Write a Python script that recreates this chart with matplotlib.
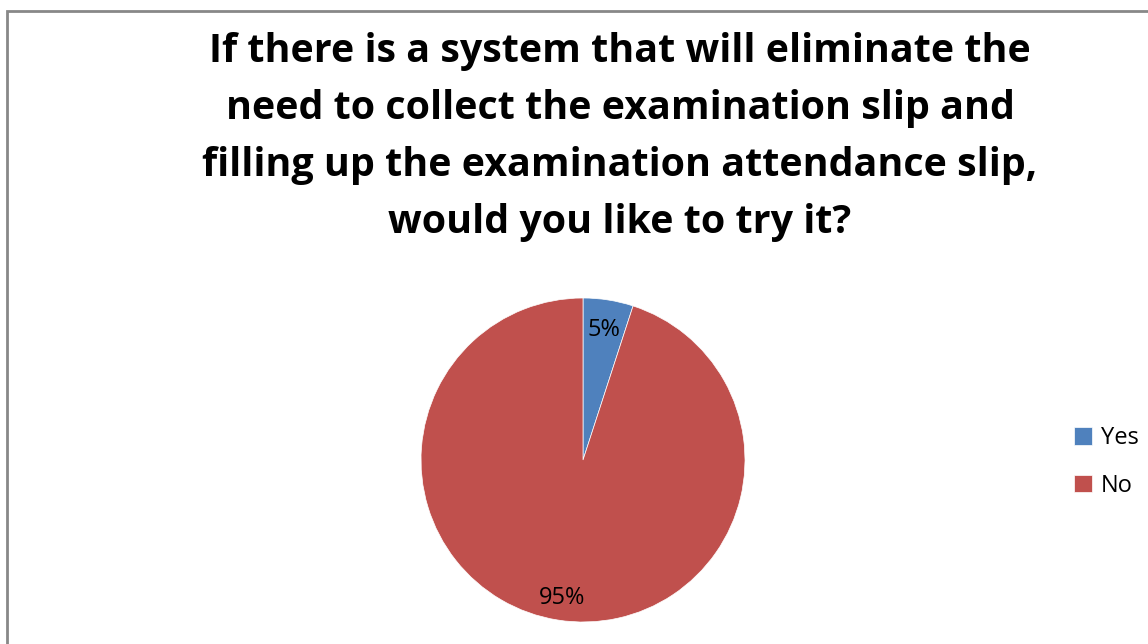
import matplotlib.pyplot as plt
from matplotlib.patches import Rectangle

# Дані опитування
labels = ['Yes', 'No']
values = [5, 95]
colors = ['#4F81BD', '#C0504D']

title = ('If there is a system that will eliminate the\n'
         'need to collect the examination slip and\n'
         'filling up the examination attendance slip,\n'
         'would you like to try it?')

W, H = 1148, 644
fig = plt.figure(figsize=(W / 100, H / 100), dpi=100)
plt.rcParams['font.family'] = ['Open Sans', 'DejaVu Sans']

# Рамка навколо діаграми
fig.patches.append(Rectangle((7 / W, -0.1), 1.2, 1 - 11 / H + 0.1,
                             transform=fig.transFigure, fill=False,
                             edgecolor='#888888', linewidth=2))

fig.text(620 / W, 1 - 137 / H, title, ha='center', va='center',
         fontsize=28.4, fontweight='bold', linespacing=1.6)

cx, cy, r = 583, 460, 162
ax = fig.add_axes([(cx - r) / W, (H - cy - r) / H, 2 * r / W, 2 * r / H])
wedges, texts, autotexts = ax.pie(values, colors=colors, startangle=90,
                                  counterclock=False, autopct='%1.0f%%',
                                  pctdistance=0.84,
                                  wedgeprops=dict(edgecolor='white', linewidth=0.5),
                                  textprops=dict(fontsize=17, color='black'))
# невелике зміщення підписів вниз, як в оригіналі
for t in autotexts:
    x, y = t.get_position()
    t.set_position((x, y - 0.025))
ax.set_xlim(-1, 1)
ax.set_ylim(-1, 1)
ax.set_aspect('equal')

fig.legend(wedges, labels, loc='center left',
           bbox_to_anchor=(1074 / W, 1 - 462 / H), frameon=False,
           borderpad=0, borderaxespad=0,
           fontsize=17, handlelength=0.75, handleheight=0.75,
           labelspacing=1.0, handletextpad=0.4)

fig.savefig('out.png', dpi=100)
